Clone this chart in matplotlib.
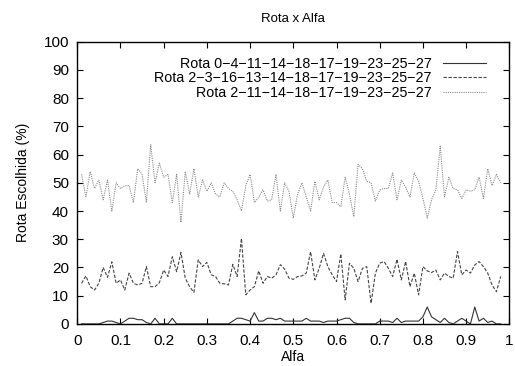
import matplotlib
matplotlib.use("Agg")
import matplotlib.pyplot as plt

plt.rcParams['font.family'] = ['Liberation Sans', 'DejaVu Sans']

# alfa sampled every 0.01
alfa = [i / 100 for i in range(1, 99)]

rota_a = [0, 0, 0, 0, 0, 0.5, 1, 1, 0.5, 0,
          1, 2, 2, 1.5, 1.5, 0.5, 0, 2, 0, 0,
          0, 2, 0, 0, 0, 0, 0, 0, 0, 0,
          0, 0, 0, 0, 0, 1, 2, 2, 1.5, 1,
          4, 1, 1, 2, 2, 1.5, 2, 1, 1, 1,
          1, 1, 2, 1, 1, 1, 0.5, 1, 1, 1,
          1.5, 2, 2, 0.5, 0, 0, 0, 0, 0, 1,
          1, 1, 0.5, 2, 0.5, 1, 1, 1, 1, 2.5,
          6, 2.5, 1.5, 0.5, 2, 0.5, 0, 1, 2, 1,
          0, 6, 1, 2, 0.5, 1, 0, 0]

rota_b = [14.4, 17, 13.2, 12, 14.4, 20, 16.5, 22, 14.4, 15.6,
          12, 18, 14.4, 13.8, 14.4, 20.3, 13.2, 13.2, 14.6, 19.1,
          16.8, 23.8, 18.5, 25.3, 16.2, 13.2, 11.2, 22.7, 20.3, 21.8,
          17.4, 16.8, 14.4, 14.2, 13.8, 21.1, 16.8, 30.3, 10.3, 12,
          13.2, 18.8, 14.4, 16.8, 16.2, 17.4, 21, 19.4, 16.2, 15.8,
          16.8, 17, 18, 25.6, 15.6, 19.7, 25, 20.3, 17.4, 15,
          24.8, 8.5, 21.5, 19.7, 15, 19.7, 20.3, 7.3, 18, 21.5,
          22.1, 19.7, 16.8, 22.9, 15.6, 22.1, 13.2, 18, 10.3, 20.3,
          18.8, 18.2, 19.1, 15.6, 18, 16.8, 16.2, 25.6, 17.4, 19.1,
          18, 20.9, 22.1, 20.3, 18, 13.8, 11.4, 16.8]

rota_c = [53, 45, 54, 48, 51, 44, 51, 40, 50, 48,
          49, 49, 43, 55, 53, 43, 63.5, 50, 57, 52,
          53, 43, 53, 36, 54, 46, 55, 45, 51, 47,
          50, 46, 45, 50, 48, 47, 44, 40, 49, 53,
          43, 45, 47.5, 43.5, 44, 53, 40, 50, 47, 37.5,
          46, 50, 45, 40, 50.5, 44, 48.5, 51, 43, 43,
          41.5, 52, 46, 38, 56.5, 55, 50.5, 50, 43.5, 47.5,
          48, 48, 53.5, 44, 51, 48.5, 45, 53.5, 50.5, 44.5,
          37.5, 44, 47.5, 63, 45, 52, 48, 47.5, 44.5, 47.5,
          47, 47.5, 52, 44.5, 55, 49, 53, 50]

labels = ['Rota 0\u22124\u221211\u221214\u221218\u221217\u221219\u221223\u221225\u221227',
          'Rota 2\u22123\u221216\u221213\u221214\u221218\u221217\u221219\u221223\u221225\u221227',
          'Rota 2\u221211\u221214\u221218\u221217\u221219\u221223\u221225\u221227']

xticks = [0, 0.1, 0.2, 0.3, 0.4, 0.5, 0.6, 0.7, 0.8, 0.9, 1]
xticklabels = ['0', '0.1', '0.2', '0.3', '0.4', '0.5', '0.6', '0.7', '0.8', '0.9', '1']
yticks = list(range(0, 101, 10))

fig = plt.figure(figsize=(5.15, 3.66), dpi=100)
ax = fig.add_axes([0.150, 0.115, 0.839, 0.771])

ax.plot(alfa, rota_a, color='#333333', lw=0.8, label=labels[0])
ax.plot(alfa, rota_b, color='#444444', lw=0.8, dashes=(3, 1.5), label=labels[1])
ax.plot(alfa, rota_c, color='#8a8a8a', lw=0.8, dashes=(1, 1), label=labels[2])

ax.set_xlim(0, 1)
ax.set_ylim(0, 100)
ax.set_xticks(xticks)
ax.set_xticklabels(xticklabels)
ax.set_yticks(yticks)
ax.tick_params(direction='in', length=4, width=0.8, top=True, right=True,
               labelsize=11, colors='black')
ax.tick_params(axis='x', pad=7)
ax.tick_params(axis='y', pad=6)
for s in ax.spines.values():
    s.set_linewidth(1.0)

ax.set_title('Rota x Alfa', fontsize=9.5, pad=14)
ax.set_xlabel('Alfa', fontsize=10, labelpad=2)
ax.set_ylabel('Rota Escolhida (%)', fontsize=10, labelpad=10)

leg = ax.legend(loc='upper right', bbox_to_anchor=(0.962, 0.972), frameon=False,
                markerfirst=False, fontsize=10.3, handlelength=3.0,
                handletextpad=0.8, labelspacing=0.05, borderpad=0)

fig.savefig('out.png', dpi=100)
